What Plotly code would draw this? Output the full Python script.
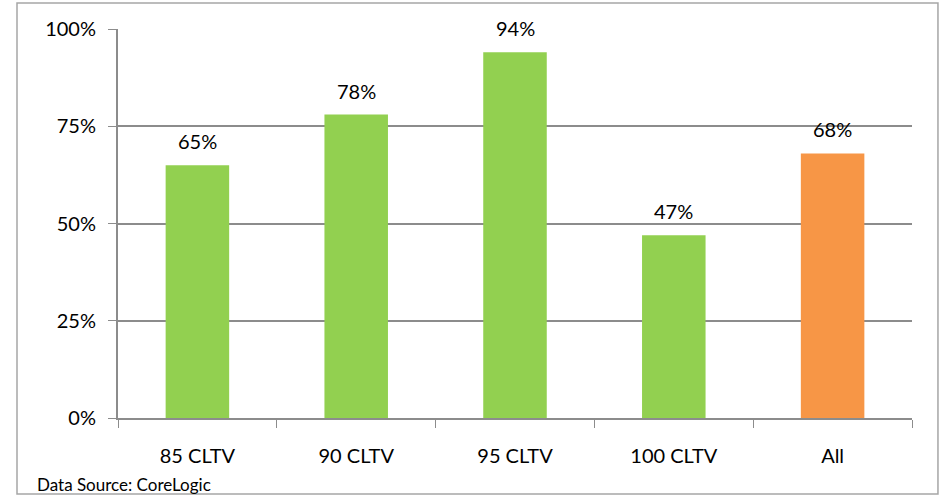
import plotly.graph_objects as go

categories = ["85 CLTV", "90 CLTV", "95 CLTV", "100 CLTV", "All"]
values = [0.65, 0.78, 0.94, 0.47, 0.68]
bar_colors = ["#92D050", "#92D050", "#92D050", "#92D050", "#F79646"]
y_ticks = [0, 0.25, 0.5, 0.75, 1.0]
y_tick_labels = ["0%", "25%", "50%", "75%", "100%"]

FONT = "Lato, Carlito, Calibri, sans-serif"
GRID = "#8c8c8c"

fig = go.Figure(
    go.Bar(
        x=categories,
        y=values,
        marker=dict(color=bar_colors, line=dict(width=0)),
        width=0.4,
        hoverinfo="skip",
    )
)

# value labels above bars
for cat, val in zip(categories, values):
    fig.add_annotation(
        x=cat, y=val, text=f"{val * 100:.0f}%",
        showarrow=False, yanchor="middle", yshift=24,
        font=dict(family=FONT, size=20, color="#000000"),
    )

fig.add_annotation(
    text="Data Source: CoreLogic", xref="paper", yref="paper",
    x=-0.1045, y=-0.172, xanchor="left", yanchor="middle",
    showarrow=False, font=dict(family=FONT, size=17, color="#000000"),
)

# outer chart border
fig.add_shape(
    type="rect", xref="paper", yref="paper",
    x0=-0.1272, x1=1.0327, y0=-0.1954, y1=1.0668,
    line=dict(color="#a6a6a6", width=1.5),
)

fig.update_layout(
    width=944,
    height=496,
    margin=dict(l=118, r=32, t=29, b=78),
    paper_bgcolor="white",
    plot_bgcolor="white",
    showlegend=False,
    font=dict(family=FONT, size=20, color="#000000"),
    xaxis=dict(
        showgrid=False,
        showline=True,
        linecolor=GRID,
        linewidth=2,
        ticks="outside",
        tickson="boundaries",
        ticklen=8,
        tickcolor=GRID,
        ticklabelstandoff=19,
    ),
    yaxis=dict(
        range=[0, 1.0],
        tickvals=y_ticks,
        ticktext=y_tick_labels,
        showgrid=True,
        gridcolor=GRID,
        gridwidth=1.5,
        showline=True,
        linecolor=GRID,
        linewidth=2,
        ticks="outside",
        ticklen=8,
        tickcolor=GRID,
        ticklabelstandoff=8,
        zeroline=False,
    ),
)

# drop the default page margin so the figure sits at the window's corner
fig.write_html(
    "out.html",
    config={"displayModeBar": False},
    post_script="document.body.style.margin='0';",
)
